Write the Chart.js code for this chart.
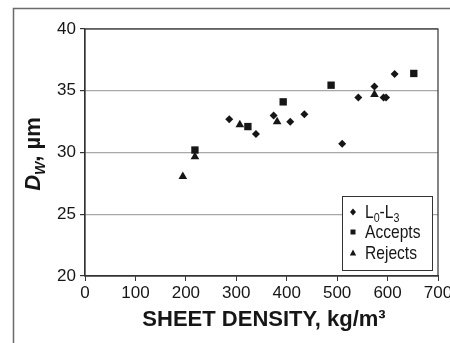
<!DOCTYPE html>
<html>
<head>
<meta charset="utf-8">
<script src="https://cdn.jsdelivr.net/npm/chart.js@4/dist/chart.umd.min.js"></script>
<style>
  html, body { margin: 0; padding: 0; background: #fff; }
  canvas { display: block; }
</style>
</head>
<body>
<canvas id="chart" width="450" height="343"></canvas>
<script>
// Datos (densidad de hoja en kg/m3, D_W en µm)
const densityL = [286, 339, 374, 407, 435, 510, 542, 574, 592, 597, 614];
const dwL = [32.7, 31.5, 33.0, 32.5, 33.1, 30.7, 34.45, 35.35, 34.45, 34.45, 36.35];

const densityAccepts = [218, 323, 393, 488, 652];
const dwAccepts = [30.2, 32.1, 34.1, 35.45, 36.4];

const densityRejects = [194, 218, 307, 381, 574];
const dwRejects = [28.05, 29.65, 32.25, 32.5, 34.7];

const xTicks = [0, 100, 200, 300, 400, 500, 600, 700];
const yTicks = [20, 25, 30, 35, 40];

// Etiquetas de la leyenda: partes con subíndice
const legendLabels = [
    [{ t: 'L' }, { t: '0', sub: true }, { t: '-L' }, { t: '3', sub: true }],
    [{ t: 'Accepts' }],
    [{ t: 'Rejects' }]
];

const ink = '#161616';
const sans = '"Liberation Sans", Arial, sans-serif';

function toPoints(xs, ys) {
    return xs.map((x, i) => ({ x: x, y: ys[i] }));
}

// Texto con subíndices, comprimido en horizontal (letra estrecha)
function drawRich(ctx, parts, x, y, size, squeeze) {
    ctx.save();
    ctx.translate(x, y);
    ctx.scale(squeeze, 1);
    let cx = 0;
    parts.forEach(p => {
        const s = p.sub ? Math.round(size * 0.68) : size;
        ctx.font = s + 'px ' + sans;
        ctx.fillText(p.t, cx, p.sub ? size * 0.3 : 0);
        cx += ctx.measureText(p.t).width;
    });
    ctx.restore();
}

function drawMarker(ctx, style, x, y) {
    ctx.beginPath();
    if (style === 'rectRot') {
        ctx.moveTo(x, y - 3.5); ctx.lineTo(x + 3, y); ctx.lineTo(x, y + 3.5); ctx.lineTo(x - 3, y);
    } else if (style === 'rect') {
        ctx.rect(x - 2.5, y - 2.5, 5, 5);
    } else {
        ctx.moveTo(x, y - 3.5); ctx.lineTo(x + 3.2, y + 2.5); ctx.lineTo(x - 3.2, y + 2.5);
    }
    ctx.closePath();
    ctx.fill();
}

const decorPlugin = {
    id: 'decor',
    beforeDraw(chart) {
        const ctx = chart.ctx;
        ctx.save();
        ctx.fillStyle = '#fff';
        ctx.fillRect(0, 0, chart.width, chart.height);
        // marco exterior
        ctx.strokeStyle = '#6a6a6a';
        ctx.lineWidth = 1.5;
        ctx.beginPath();
        ctx.moveTo(450, 8.5);
        ctx.lineTo(13.5, 8.5);
        ctx.lineTo(13.5, 343);
        ctx.stroke();
        ctx.restore();
    },
    afterDraw(chart) {
        const ctx = chart.ctx;
        const a = chart.chartArea;
        ctx.save();
        // borde del área de trazado
        ctx.strokeStyle = '#333';
        ctx.lineWidth = 1.2;
        ctx.strokeRect(a.left, a.top, a.right - a.left, a.bottom - a.top);

        // título eje X
        ctx.fillStyle = ink;
        ctx.textAlign = 'center';
        ctx.textBaseline = 'alphabetic';
        ctx.font = 'bold 22px ' + sans;
        ctx.fillText('SHEET DENSITY, kg/m³', 264, 326);

        // título eje Y (D cursiva, W subíndice)
        ctx.save();
        ctx.translate(40, 154);
        ctx.rotate(-Math.PI / 2);
        ctx.textAlign = 'left';
        const yParts = [
            { t: 'D', style: 'italic bold', size: 22 },
            { t: 'W', style: 'italic bold', size: 14, dy: 5 },
            { t: ', µm', style: 'bold', size: 22 }
        ];
        let w = 0;
        yParts.forEach(p => { ctx.font = p.style + ' ' + p.size + 'px ' + sans; w += ctx.measureText(p.t).width; });
        let cx = -w / 2;
        yParts.forEach(p => {
            ctx.font = p.style + ' ' + p.size + 'px ' + sans;
            ctx.fillText(p.t, cx, p.dy || 0);
            cx += ctx.measureText(p.t).width;
        });
        ctx.restore();

        // leyenda dentro del área
        const bx = 342, by = 196, bw = 90, bh = 74;
        ctx.fillStyle = '#fff';
        ctx.fillRect(bx, by, bw, bh);
        ctx.strokeStyle = '#333';
        ctx.lineWidth = 1;
        ctx.strokeRect(bx + 0.5, by + 0.5, bw, bh);
        const rows = [212, 232, 253];
        ctx.textAlign = 'left';
        ctx.textBaseline = 'middle';
        chart.data.datasets.forEach((ds, i) => {
            ctx.fillStyle = ink;
            drawMarker(ctx, ds.pointStyle, 353, rows[i]);
            drawRich(ctx, legendLabels[i], 365, rows[i] + 1, 19, 0.82);
        });
        ctx.restore();
    }
};

const ctx = document.getElementById('chart').getContext('2d');
new Chart(ctx, {
    type: 'scatter',
    data: {
        datasets: [
            {
                label: 'L0-L3',
                data: toPoints(densityL, dwL),
                pointStyle: 'rectRot',
                pointRadius: 4,
                backgroundColor: ink,
                borderColor: ink,
                borderWidth: 0
            },
            {
                label: 'Accepts',
                data: toPoints(densityAccepts, dwAccepts),
                pointStyle: 'rect',
                pointRadius: 5.2,
                backgroundColor: ink,
                borderColor: ink,
                borderWidth: 0
            },
            {
                label: 'Rejects',
                data: toPoints(densityRejects, dwRejects),
                pointStyle: 'triangle',
                pointRadius: 5,
                backgroundColor: ink,
                borderColor: ink,
                borderWidth: 0
            }
        ]
    },
    options: {
        responsive: false,
        animation: false,
        devicePixelRatio: 1,
        layout: { padding: { top: 29, right: 12, left: 0, bottom: 0 } },
        plugins: {
            legend: { display: false },
            tooltip: { enabled: false }
        },
        scales: {
            x: {
                type: 'linear',
                min: 0,
                max: 700,
                afterBuildTicks: s => { s.ticks = xTicks.map(v => ({ value: v })); },
                afterFit: s => { s.height = 67; s.paddingRight = 0; s.paddingLeft = 0; },
                ticks: {
                    color: ink,
                    padding: 2,
                    maxRotation: 0,
                    autoSkip: false,
                    font: { family: sans, size: 17 }
                },
                grid: { drawOnChartArea: false, tickLength: 5, tickColor: '#333' },
                border: { color: '#333', width: 1.2 }
            },
            y: {
                min: 20,
                max: 40,
                afterBuildTicks: s => { s.ticks = yTicks.map(v => ({ value: v })); },
                afterFit: s => { s.width = 85; },
                ticks: {
                    color: ink,
                    padding: 4,
                    font: { family: sans, size: 17 }
                },
                grid: { color: '#a8a8a8', lineWidth: 1.2, tickLength: 5, tickColor: '#333' },
                border: { color: '#333', width: 1.2 }
            }
        }
    },
    plugins: [decorPlugin]
});
</script>
</body>
</html>
